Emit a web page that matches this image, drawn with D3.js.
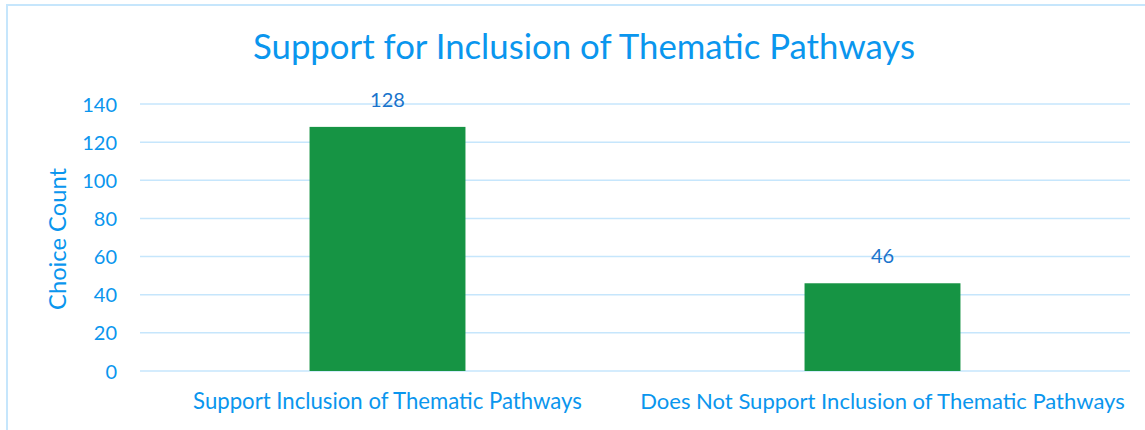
<!DOCTYPE html>
<html><head><meta charset="utf-8">
<script src="https://cdn.jsdelivr.net/npm/d3@7"></script>
<style>body{margin:0;background:#fff;}svg{display:block;}</style>
</head><body>
<script>
const categories = ["Support Inclusion of Thematic Pathways", "Does Not Support Inclusion of Thematic Pathways"];
const values = [128, 46];
const yTicks = [0, 20, 40, 60, 80, 100, 120, 140];
const title = "Support for Inclusion of Thematic Pathways";
const yTitle = "Choice Count";

const W = 1145, H = 430;
const font = "Lato, 'Open Sans', 'Noto Sans', sans-serif";
const blue = "#0A96EE", labelBlue = "#1A74CC", grid = "#C6E6FC", barColor = "#169444";
const svg = d3.select("body").append("svg").attr("width", W).attr("height", H);
svg.append("rect").attr("x", 7).attr("y", 5).attr("width", W + 10).attr("height", H + 10)
  .attr("fill", "#fff").attr("stroke", "#C6E6FC").attr("stroke-width", 2);

const x = d3.scaleBand().domain(categories).range([140, 1130]).paddingInner(0.685).paddingOuter(0.3425);
const y = d3.scaleLinear().domain([0, 140]).range([371, 104]);

function fit(sel, target) {
  const node = sel.node();
  let fs = +sel.attr("font-size");
  const w = node.getComputedTextLength();
  sel.attr("font-size", fs * target / w);
}

// gridlines
svg.append("g").selectAll("line").data(yTicks).join("line")
  .attr("x1", 140).attr("x2", 1130).attr("y1", d => y(d)).attr("y2", d => y(d))
  .attr("stroke", grid).attr("stroke-width", 1.5);

// y axis
const yAxis = svg.append("g").attr("transform", "translate(140,0)")
  .call(d3.axisLeft(y).tickValues(yTicks).tickSize(0).tickPadding(23));
yAxis.select(".domain").remove();
yAxis.selectAll("text").attr("fill", blue).attr("font-size", 20).attr("font-family", font).attr("dy", "0.35em");

// bars
svg.append("g").selectAll("rect").data(values).join("rect")
  .attr("x", (d, i) => x(categories[i])).attr("width", x.bandwidth())
  .attr("y", d => y(d)).attr("height", d => y(0) - y(d)).attr("fill", barColor);

// data labels
svg.append("g").selectAll("text").data(values).join("text")
  .attr("x", (d, i) => x(categories[i]) + x.bandwidth() / 2).attr("y", d => y(d) - 25)
  .attr("text-anchor", "middle").attr("dominant-baseline", "middle")
  .attr("fill", labelBlue).attr("font-size", 20).attr("font-family", font).text(d => d);

// x axis labels
const xAxis = svg.append("g").attr("transform", "translate(0,371)")
  .call(d3.axisBottom(x).tickSize(0).tickPadding(22));
xAxis.select(".domain").remove();
xAxis.selectAll("text").attr("fill", blue).attr("font-size", 19).attr("font-family", font).attr("dy", "0.71em");
const xTargets = [389, 485];
xAxis.selectAll("text").each(function (d, i) { fit(d3.select(this), xTargets[i]); });

// title
const t = svg.append("text").attr("x", 584).attr("y", 50).attr("text-anchor", "middle")
  .attr("dominant-baseline", "middle").attr("fill", blue).attr("font-size", 30)
  .attr("font-family", font).text(title);
fit(t, 662);

// y title
const yt = svg.append("text").attr("transform", "translate(60,239) rotate(-90)")
  .attr("text-anchor", "middle").attr("dominant-baseline", "middle")
  .attr("fill", blue).attr("font-size", 20).attr("font-family", font).text(yTitle);
fit(yt, 142);
</script>
</body></html>
